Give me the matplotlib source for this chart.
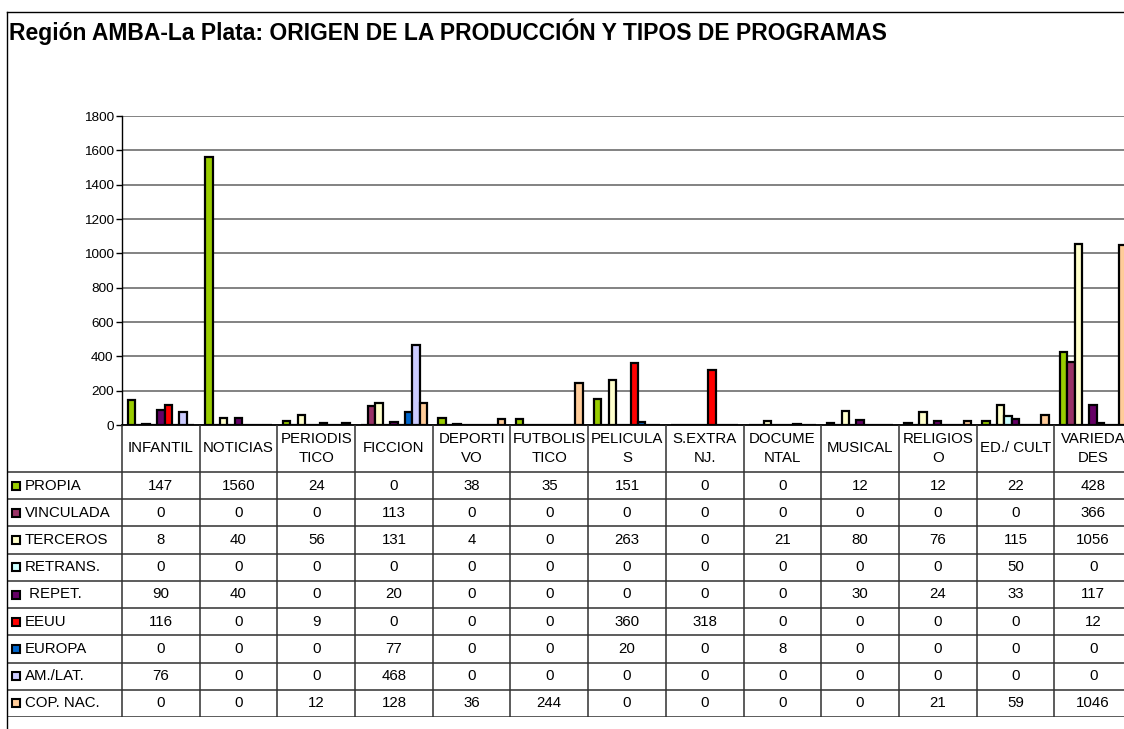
import numpy as np
import matplotlib.pyplot as plt
from matplotlib.lines import Line2D

plt.rcParams['font.family'] = ['Liberation Sans', 'DejaVu Sans']

categorias = ['INFANTIL', 'NOTICIAS', 'PERIODIS\nTICO', 'FICCION', 'DEPORTI\nVO',
              'FUTBOLIS\nTICO', 'PELICULA\nS', 'S.EXTRA\nNJ.', 'DOCUME\nNTAL',
              'MUSICAL', 'RELIGIOS\nO', 'ED./ CULT', 'VARIEDA\nDES']

series = ['PROPIA', 'VINCULADA', 'TERCEROS', 'RETRANS.', ' REPET.', 'EEUU',
          'EUROPA', 'AM./LAT.', 'COP. NAC.']

propia = [147, 1560, 24, 0, 38, 35, 151, 0, 0, 12, 12, 22, 428]
vinculada = [0, 0, 0, 113, 0, 0, 0, 0, 0, 0, 0, 0, 366]
terceros = [8, 40, 56, 131, 4, 0, 263, 0, 21, 80, 76, 115, 1056]
retrans = [0, 0, 0, 0, 0, 0, 0, 0, 0, 0, 0, 50, 0]
repet = [90, 40, 0, 20, 0, 0, 0, 0, 0, 30, 24, 33, 117]
eeuu = [116, 0, 9, 0, 0, 0, 360, 318, 0, 0, 0, 0, 12]
europa = [0, 0, 0, 77, 0, 0, 20, 0, 8, 0, 0, 0, 0]
am_lat = [76, 0, 0, 468, 0, 0, 0, 0, 0, 0, 0, 0, 0]
cop_nac = [0, 0, 12, 128, 36, 244, 0, 0, 0, 0, 21, 59, 1046]

valores = [propia, vinculada, terceros, retrans, repet, eeuu, europa, am_lat, cop_nac]
colores = ['#99CC00', '#993366', '#FFFFCC', '#CCFFFF', '#660066', '#FF0000',
           '#0066CC', '#CCCCFF', '#FFCC99']

W, H = 1124, 729
fig = plt.figure(figsize=(W / 100, H / 100), dpi=100)

# pixel layout
x0, x1 = 122, 1132      # plot area left/right (right is cut off)
y_top, y_zero = 116, 425
cat_w = (x1 - x0) / len(categorias)

ax = fig.add_axes([x0 / W, 1 - y_zero / H, (x1 - x0) / W, (y_zero - y_top) / H])
n = len(series)
ancho = 1 / (n + 1.5)
x = np.arange(len(categorias))
for i, (vals, col) in enumerate(zip(valores, colores)):
    ax.bar(x + (i - (n - 1) / 2) * ancho, vals, ancho, color=col,
           edgecolor='black', linewidth=1.6, zorder=3)

ax.set_xlim(-0.5, len(categorias) - 0.5)
ax.set_ylim(0, 1800)
ax.set_yticks(range(0, 1801, 200))
ax.yaxis.grid(True, color='#606060', linewidth=1.1)
ax.set_axisbelow(True)
ax.set_xticks([])
ax.tick_params(axis='y', direction='out', length=4, width=1, labelsize=9.7, pad=2)
for s in ['top', 'right']:
    ax.spines[s].set_visible(False)
ax.spines['left'].set_linewidth(1)
ax.spines['bottom'].set_linewidth(1.3)

# data table
t_left, t_bottom = 8, 717
h_head = 47
row_h = (t_bottom - y_zero - h_head) / n
tax = fig.add_axes([t_left / W, 1 - t_bottom / H, (x1 - t_left) / W, (t_bottom - y_zero) / H])
left_units = -0.5 - (x0 - t_left) / cat_w
tax.set_xlim(left_units, len(categorias) - 0.5)
tax.set_ylim(t_bottom, y_zero)
tax.axis('off')

lc = '#303030'
y_head_bot = y_zero + h_head
for k in range(len(categorias) + 1):
    tax.plot([k - 0.5, k - 0.5], [y_zero, t_bottom], color=lc, lw=1.1)
for r in range(n + 1):
    yy = y_head_bot + r * row_h
    tax.plot([left_units, len(categorias) - 0.5], [yy, yy], color=lc, lw=1.1)

fs = 10.8
for j, cat in enumerate(categorias):
    tax.text(j, y_zero + h_head / 2, cat, ha='center', va='center', fontsize=fs,
             linespacing=1.45)

for r, (nombre, vals, col) in enumerate(zip(series, valores, colores)):
    yc = y_head_bot + (r + 0.5) * row_h
    tax.plot(left_units + 8 / cat_w, yc, marker='s', ms=5.5, mfc=col, mec='black', mew=1.5)
    tax.text(left_units + 17 / cat_w, yc, nombre, ha='left', va='center', fontsize=fs)
    for j, v in enumerate(vals):
        tax.text(j, yc, str(v), ha='center', va='center', fontsize=fs)

# chart frame (cut at right and bottom)
fig.add_artist(Line2D([7 / W, 7 / W], [0, 1 - 12 / H], color='black', lw=1))
fig.add_artist(Line2D([7 / W, 1], [1 - 12 / H, 1 - 12 / H], color='black', lw=1))

fig.text(9 / W, 1 - 40 / H, 'Región AMBA-La Plata: ORIGEN DE LA PRODUCCIÓN Y TIPOS DE PROGRAMAS',
         fontsize=16.5, fontweight='bold', ha='left', va='baseline')

fig.savefig('out.png', dpi=100, facecolor='white')
